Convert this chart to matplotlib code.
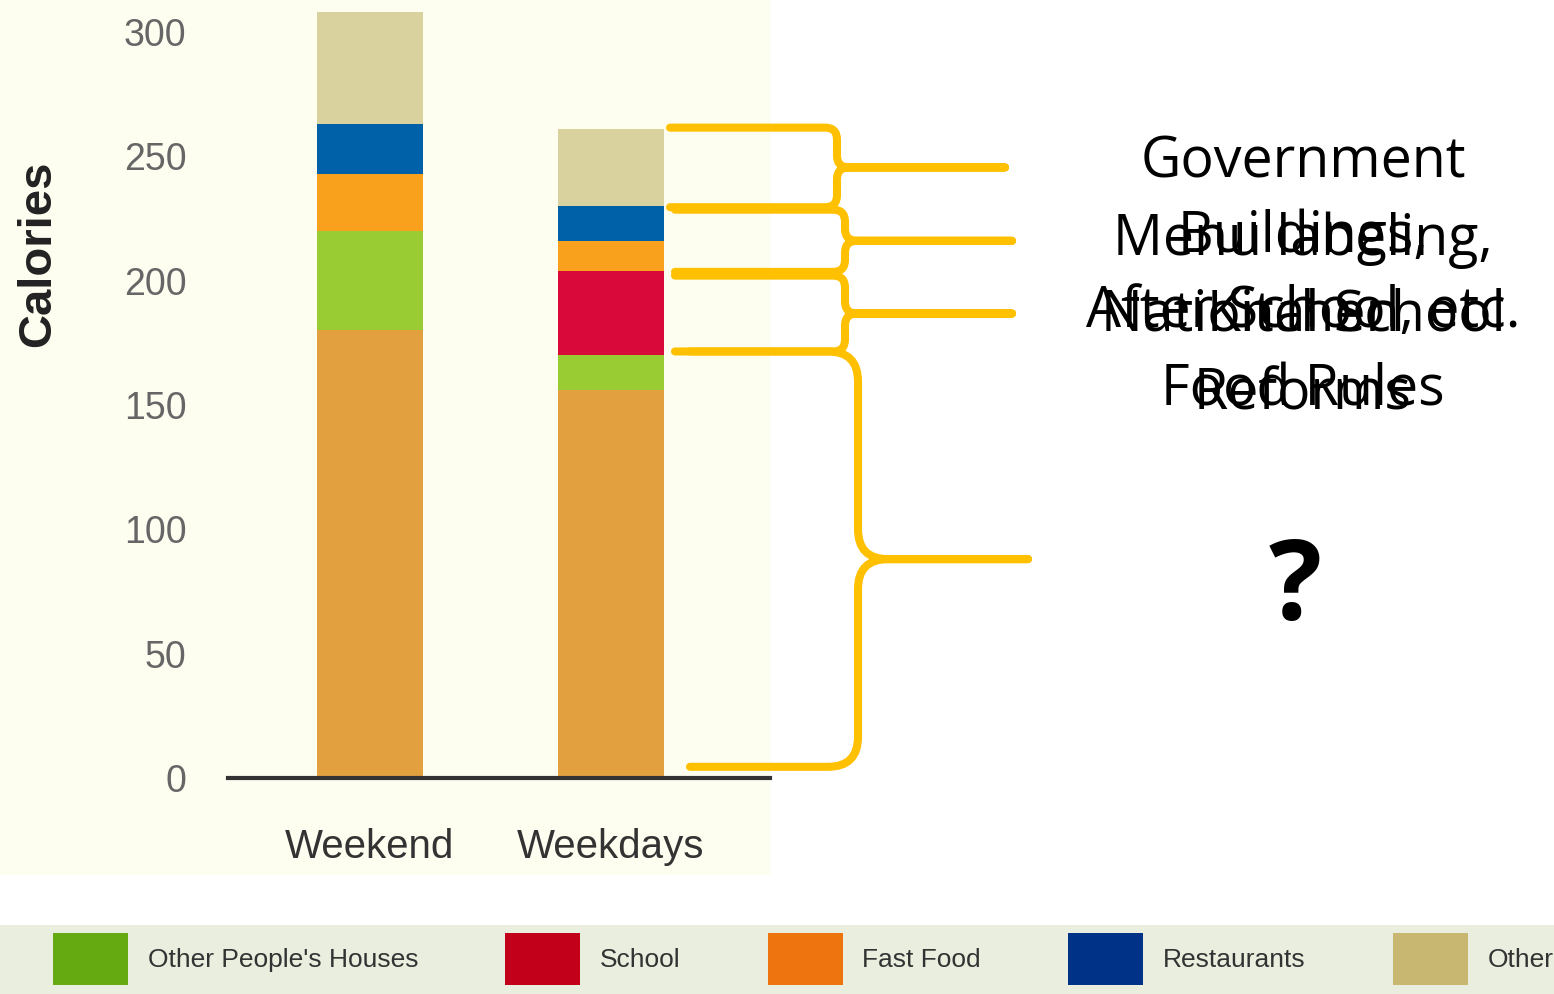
import matplotlib

matplotlib.use("Agg")
import matplotlib.pyplot as plt
from matplotlib.patches import Rectangle, Patch, PathPatch
from matplotlib.path import Path
from matplotlib.transforms import IdentityTransform
import numpy as np

PERIODS = ["Weekend", "Weekdays"]
SEGMENTS = ["Home", "Other People's Houses", "School", "Fast Food", "Restaurants", "Other"]
HOME = [180, 156]
OTHER_HOUSES = [40, 14]
SCHOOL = [0, 34]
FAST_FOOD = [23, 12]
RESTAURANTS = [20, 14]
OTHER = [45, 31]

BAR_COLORS = ["#E2A13E", "#99CC33", "#D90A3A", "#F9A01C", "#0060A8", "#D9D19E"]
LEGEND_COLORS = ["#66AA11", "#C20019", "#EE7410", "#003388", "#C8B770"]

BRACE_TEXTS = [
    ["Government", "Buildings,", "After School, etc."],
    ["Menu labeling,", "National School", "Food Rules"],
    ["Kitchen", "Reforms"],
]

W, H = 1554, 994
fig = plt.figure(figsize=(W / 100, H / 100), dpi=100)
fig.patch.set_facecolor("white")

# cream chart panel and legend strip (behind the axes)
fig.patches.append(Rectangle((0, 1 - 875 / H), 770 / W, 875 / H, transform=fig.transFigure,
                             facecolor="#FDFDF0", edgecolor="none", zorder=-2))
fig.patches.append(Rectangle((0, 0), 1, 69 / H, transform=fig.transFigure,
                             facecolor="#E9EEDF", edgecolor="none", zorder=-2))

ax = fig.add_axes([228 / W, 1 - 778 / H, (770 - 228) / W, (778 - 7) / H])
ax.set_facecolor("none")

x = np.arange(len(PERIODS))
series = [HOME, OTHER_HOUSES, SCHOOL, FAST_FOOD, RESTAURANTS, OTHER]
bottom = np.zeros(len(PERIODS))
bounds = [bottom.copy()]
for vals, color in zip(series, BAR_COLORS):
    vals = np.array(vals, dtype=float)
    ax.bar(x, vals, bottom=bottom, width=0.44, color=color, edgecolor="none", zorder=2)
    bottom = bottom + vals
    bounds.append(bottom.copy())

ax.set_xlim(-0.589, 1.66)
ax.set_ylim(0, 310)
ax.set_yticks([0, 50, 100, 150, 200, 250, 300])
ax.set_xticks(x)
ax.set_xticklabels(PERIODS, fontsize=29, color="#333333", family="Liberation Sans")
ax.tick_params(axis="y", length=0, pad=30, labelsize=27, labelcolor="#666666")
ax.tick_params(axis="x", length=0, pad=36)
for lab in ax.get_yticklabels():
    lab.set_family("Liberation Sans")
for s in ["top", "right", "left"]:
    ax.spines[s].set_visible(False)
ax.spines["bottom"].set_color("#333333")
ax.spines["bottom"].set_linewidth(3)
ax.spines["bottom"].set_zorder(3)
ax.set_ylabel("Calories", fontsize=34, fontweight="bold", color="#222222",
              family="Liberation Sans", labelpad=0)
ax.yaxis.set_label_coords(-0.31, 0.68)

# legend
handles = [Patch(facecolor=c, edgecolor="none") for c in LEGEND_COLORS]
fig.legend(handles, SEGMENTS[1:], loc="center left", bbox_to_anchor=(53 / W, 35 / H),
           ncol=5, frameon=False, prop={"family": "Liberation Sans", "size": 19},
           handlelength=2.84, handleheight=2.6, handletextpad=0.75, columnspacing=3.3,
           borderpad=0, borderaxespad=0, labelcolor="#333333")

# braces in pixel space, y taken from the weekdays segment boundaries
def ypix(v):
    return ax.transData.transform((0, v))[1]


def brace(x0, xs, xt, top, bot, r, lw=5.8):
    yt, yb = ypix(top), ypix(bot)
    ym = (yt + yb) / 2
    verts = [(x0, yt), (xs - r, yt), (xs, yt), (xs, yt - r),
             (xs, ym + r), (xs, ym), (xs + r, ym), (xt, ym),
             (xs + r, ym), (xs, ym), (xs, ym - r),
             (xs, yb + r), (xs, yb), (xs - r, yb), (x0, yb)]
    codes = [Path.MOVETO, Path.LINETO, Path.CURVE3, Path.CURVE3,
             Path.LINETO, Path.CURVE3, Path.CURVE3, Path.LINETO,
             Path.LINETO, Path.CURVE3, Path.CURVE3,
             Path.LINETO, Path.CURVE3, Path.CURVE3, Path.LINETO]
    fig.patches.append(PathPatch(Path(verts, codes), transform=IdentityTransform(),
                                 facecolor="none", edgecolor="#FFC000", lw=lw,
                                 capstyle="round", joinstyle="round", zorder=5))


wd = [b[1] for b in bounds]  # weekdays cumulative boundaries
brace(670, 837, 1005, wd[6] + 0.5, wd[5] - 0.5, 12)
brace(675, 845, 1012, wd[5] - 1.5, wd[3] - 0.5, 12)
brace(675, 845, 1012, wd[3] - 2, wd[2] + 1.5, 12)
brace(690, 858, 1028, wd[2] + 1.5, 4.5, 30)

# overlapping annotation texts
tx = 1303 / W
for lines, start in zip(BRACE_TEXTS, [177, 255, 330]):
    for i, line in enumerate(lines):
        yb = start + i * 75 + (4 if start == 330 and i == 1 else 0)
        fig.text(tx, 1 - yb / H, line, ha="center", va="baseline", fontsize=40,
                 family="Open Sans", color="black", zorder=6)
fig.text(1295 / W, 1 - 620 / H, "?", ha="center", va="baseline", fontsize=80,
         fontweight="bold", family="Open Sans", color="black")

fig.savefig("out.png", dpi=100)
